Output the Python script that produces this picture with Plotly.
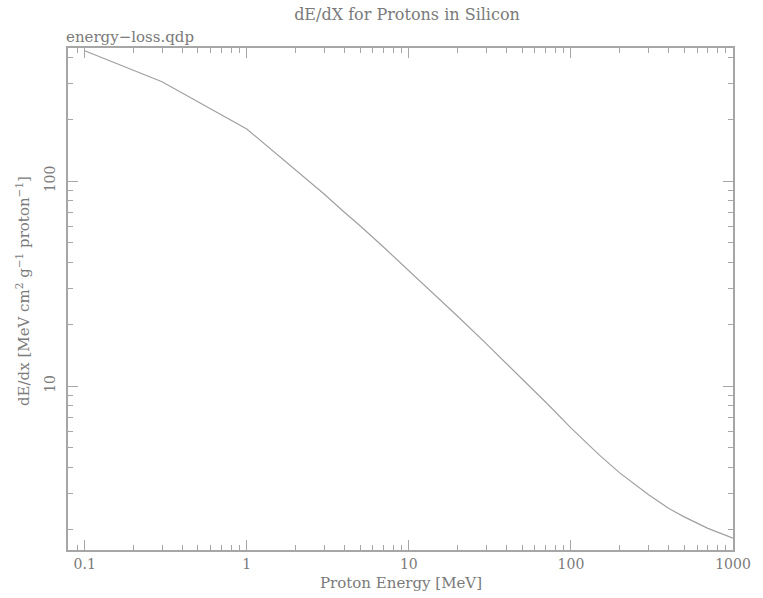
import plotly.graph_objects as go
import numpy as np

energy = [0.1, 0.3, 1, 1.5, 2, 3, 4, 5, 7, 10, 15, 20, 30, 40, 50, 70,
          100, 150, 200, 300, 400, 500, 700, 1000]
dedx = [432, 305, 179.4, 137.6, 113.9, 86.5, 70.4, 60.5, 47.5, 36.6, 27.1, 21.9,
        16.1, 12.9, 10.85, 8.33, 6.25, 4.6, 3.77, 2.96, 2.53, 2.30, 2.02, 1.81]

x_major = [0.1, 1, 10, 100, 1000]
x_labels = ["0.1", "1", "10", "100", "1000"]
y_major = [10, 100]
y_labels = ["10", "100"]

x_minor = [m * 10.0 ** d for d in range(-2, 3) for m in range(2, 10)]
x_minor = [v for v in x_minor if 0.078 < v < 1000]
y_minor = [m * 10.0 ** d for d in range(0, 3) for m in range(2, 10)]
y_minor = [v for v in y_minor if 1.58 < v < 446]

txt = "#7a7a7a"
axc = "#a6a6a6"
fnt = "DejaVu Serif"

fig = go.Figure()
fig.add_trace(go.Scatter(x=energy, y=dedx, mode="lines",
                         line=dict(color="#a0a0a0", width=1.2), showlegend=False))

axcommon = dict(showline=True, linecolor=axc, linewidth=1.5, mirror="allticks",
                ticks="inside", tickcolor=axc, tickwidth=1, showgrid=False,
                zeroline=False, tickfont=dict(family=fnt, size=14, color=txt))

fig.update_xaxes(type="log", range=[np.log10(0.0789), 3], tickmode="array",
                 tickvals=x_major, ticktext=x_labels, ticklen=10,
                 minor=dict(tickmode="array", tickvals=x_minor, ticks="inside",
                            ticklen=5, tickcolor=axc, showgrid=False),
                 **axcommon)
fig.update_yaxes(type="log", range=[0.2, 2.649], tickmode="array",
                 tickvals=y_major, ticktext=y_labels, ticklen=10, tickangle=-90,
                 ticklabelstandoff=6,
                 minor=dict(tickmode="array", tickvals=y_minor, ticks="inside",
                            ticklen=5, tickcolor=axc, showgrid=False),
                 **axcommon)

fig.update_layout(
    width=763, height=598,
    margin=dict(l=68, r=19, t=48, b=48),
    paper_bgcolor="white", plot_bgcolor="white",
    title=dict(text="dE/dX for Protons in Silicon", x=407 / 763, xanchor="center",
               y=1 - 14 / 598, yanchor="middle",
               font=dict(family=fnt, size=16, color=txt)),
)
fig.add_annotation(text="energy−loss.qdp", xref="paper", yref="paper", x=0, y=1,
                   xanchor="left", yanchor="bottom", yshift=0, xshift=-4, showarrow=False,
                   font=dict(family=fnt, size=15, color=txt))
fig.add_annotation(text="Proton Energy [MeV]", xref="paper", yref="paper",
                   x=0.5, y=0, xanchor="center", yanchor="middle", yshift=-33,
                   showarrow=False, font=dict(family=fnt, size=15, color=txt))
fig.add_annotation(text="dE/dx [MeV cm<sup>2</sup> g<sup>−1</sup> proton<sup>−1</sup>]",
                   xref="paper", yref="paper", x=0, y=0.5, xanchor="center",
                   yanchor="middle", xshift=-45, yshift=8, textangle=-90,
                   showarrow=False, font=dict(family=fnt, size=15, color=txt))

fig.write_html("out.html")
